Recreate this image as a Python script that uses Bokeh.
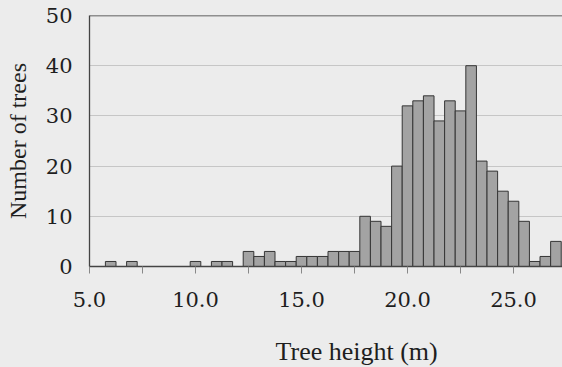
from bokeh.plotting import figure
from bokeh.models import Range1d, FixedTicker, Span, Title
from bokeh.embed import file_html
from bokeh.resources import INLINE

# Histogram bins (tree height, m) - bin centres, width 0.5 m
heights = [5.0, 5.5, 6.0, 6.5, 7.0, 7.5, 8.0, 8.5, 9.0, 9.5,
           10.0, 10.5, 11.0, 11.5, 12.0, 12.5, 13.0, 13.5, 14.0, 14.5,
           15.0, 15.5, 16.0, 16.5, 17.0, 17.5, 18.0, 18.5, 19.0, 19.5,
           20.0, 20.5, 21.0, 21.5, 22.0, 22.5, 23.0, 23.5, 24.0, 24.5,
           25.0, 25.5, 26.0, 26.5, 27.0]
counts = [0, 0, 1, 0, 1, 0, 0, 0, 0, 0,
          1, 0, 1, 1, 0, 3, 2, 3, 1, 1,
          2, 2, 2, 3, 3, 3, 10, 9, 8, 20,
          32, 33, 34, 29, 33, 31, 40, 21, 19, 15,
          13, 9, 1, 2, 5]

x_ticks = [5.0, 10.0, 15.0, 20.0, 25.0]
x_minor_ticks = [7.5, 12.5, 17.5, 22.5, 27.5]
x_tick_labels = {5.0: "5.0", 10.0: "10.0", 15.0: "15.0", 20.0: "20.0", 25.0: "25.0"}
y_ticks = [0, 10, 20, 30, 40, 50]
x_title = "Tree height (m)"
y_title = "Number of trees"

BG = "#ececec"

p = figure(width=562, height=367, output_backend="svg", toolbar_location=None,
           x_range=Range1d(5.0, 27.31), y_range=Range1d(0, 50),
           min_border_left=89, min_border_right=0, min_border_top=15,
           min_border_bottom=101)
p.background_fill_color = BG
p.border_fill_color = BG
p.outline_line_color = None

p.vbar(x=heights, top=counts, width=0.5, bottom=0,
       fill_color="#a3a3a3", line_color="#353535", line_width=1)

# top border
p.add_layout(Span(location=50, dimension="width", line_color="#333333", line_width=1.5))

# grid
p.xgrid.visible = False
p.ygrid.ticker = FixedTicker(ticks=[10, 20, 30, 40])
p.ygrid.grid_line_color = "#c6c6c6"
p.ygrid.grid_line_width = 1

# x axis
xa = p.xaxis[0]
xa.ticker = FixedTicker(ticks=x_ticks, minor_ticks=x_minor_ticks)
xa.major_label_overrides = x_tick_labels
xa.axis_line_color = "#444444"
xa.axis_line_width = 1.3
xa.major_tick_line_color = "#888888"
xa.minor_tick_line_color = "#888888"
xa.major_tick_in = 0
xa.major_tick_out = 7
xa.minor_tick_in = 0
xa.minor_tick_out = 7
xa.major_label_text_font = "DejaVu Serif"
xa.major_label_text_font_size = "21px"
xa.major_label_text_color = "#1e1e1e"
xa.major_label_standoff = 18

# y axis
ya = p.yaxis[0]
ya.ticker = FixedTicker(ticks=y_ticks)
ya.axis_line_color = "#444444"
ya.axis_line_width = 1.3
ya.major_tick_line_color = None
ya.minor_tick_line_color = None
ya.major_tick_out = 0
ya.major_tick_in = 0
ya.major_label_text_font = "DejaVu Serif"
ya.major_label_text_font_size = "21px"
ya.major_label_text_color = "#1e1e1e"
ya.major_label_standoff = 17
ya.axis_label = y_title
ya.axis_label_text_font = "Liberation Serif"
ya.axis_label_text_font_size = "24px"
ya.axis_label_text_font_style = "normal"
ya.axis_label_text_color = "#1e1e1e"
ya.axis_label_standoff = 12

p.add_layout(Title(text="\n" + x_title, align="left", offset=186,
                   vertical_align="bottom",
                   text_font="Liberation Serif", text_font_size="26px",
                   text_font_style="normal", text_color="#1e1e1e",
                   standoff=-8), "below")

html = file_html(p, INLINE)
html = html.replace("</head>", "<style>body{background-color:#ececec;}</style></head>", 1)
open("out.html", "w").write(html)
